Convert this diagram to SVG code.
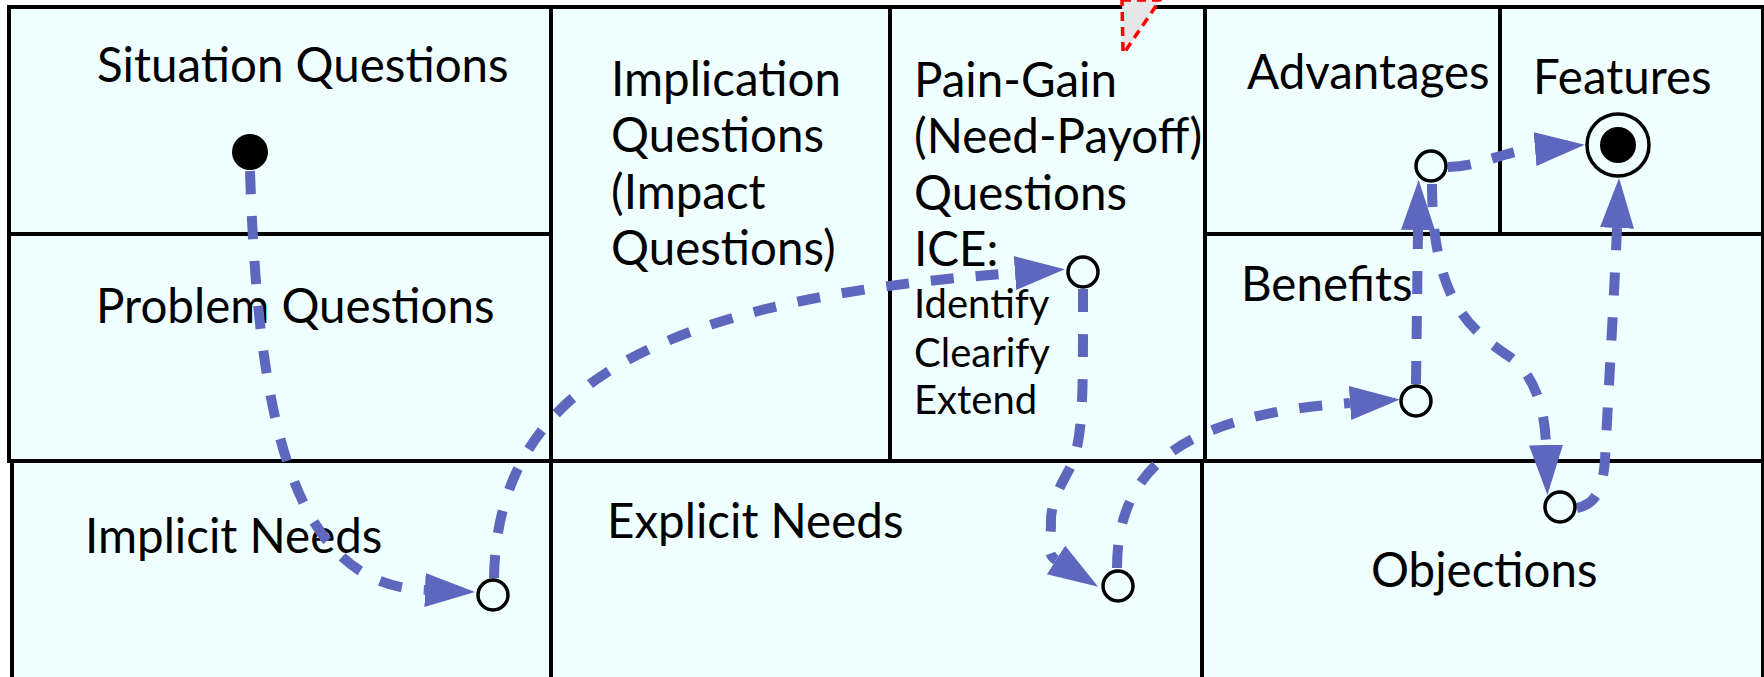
<svg xmlns="http://www.w3.org/2000/svg" width="1764" height="677" viewBox="0 0 1764 677">
<style>
.cell{fill:#F0FFFF;stroke:#000;stroke-width:4}
.lbl{font-family:Lato,"Noto Sans","Liberation Sans",sans-serif;font-size:47.5px;fill:#000}
.sm{font-size:40px}
.edge{fill:none;stroke:#5E67BE;stroke-width:10;stroke-dasharray:23 22}
.st{fill:#F0FFFF;stroke:#000;stroke-width:3.5}
</style>
<defs>
<marker id="ah" markerUnits="userSpaceOnUse" markerWidth="52" markerHeight="36" refX="0" refY="17" orient="auto" viewBox="0 0 52 36">
<path d="M0,0 L50,17 L0,34 z" fill="#5E67BE"/>
</marker>
</defs>
<g id="cells">
<g id="situation"><rect class="cell" x="9" y="7" width="542" height="227"/><text class="lbl" x="97" y="82">Situation Questions</text></g>
<g id="problem"><rect class="cell" x="9" y="234" width="542" height="227"/><text class="lbl" x="96" y="323">Problem Questions</text></g>
<g id="implication"><rect class="cell" x="551" y="7" width="339" height="454"/><text class="lbl" x="611" y="96">Implication</text><text class="lbl" x="611" y="152">Questions</text><text class="lbl" x="611" y="209">(Impact</text><text class="lbl" x="611" y="265">Questions)</text></g>
<g id="paingain"><rect class="cell" x="890" y="7" width="315" height="454"/><text class="lbl" x="914" y="97">Pain-Gain</text><text class="lbl" x="914" y="153">(Need-Payoff)</text><text class="lbl" x="914" y="210">Questions</text><text class="lbl" x="914" y="266">ICE:</text><text class="lbl sm" x="914" y="318">Identify</text><text class="lbl sm" x="914" y="367">Clearify</text><text class="lbl sm" x="914" y="414">Extend</text></g>
<g id="advantages"><rect class="cell" x="1205" y="7" width="295" height="227"/><text class="lbl" x="1247" y="89">Advantages</text></g>
<g id="features"><rect class="cell" x="1500" y="7" width="263" height="227"/><text class="lbl" x="1533" y="94">Features</text></g>
<g id="benefits"><rect class="cell" x="1205" y="234" width="558" height="227"/><text class="lbl" x="1241" y="301">Benefits</text></g>
<g id="implicit"><rect class="cell" x="12" y="461" width="539" height="240"/><text class="lbl" x="85" y="553">Implicit Needs</text></g>
<g id="explicit"><rect class="cell" x="551" y="461" width="651" height="240"/><text class="lbl" x="607" y="538">Explicit Needs</text></g>
<g id="objections"><rect class="cell" x="1202" y="461" width="561" height="240"/><text class="lbl" x="1371" y="587">Objections</text></g>
</g>
<g id="note-tip"><polygon points="1122,0 1160,0 1124,53 1123,53" fill="#E6E6E6" stroke="#FF0000" stroke-width="3.5" stroke-dasharray="9 6"/></g>
<g id="connectors">
<path class="edge" marker-end="url(#ah)" d="M250 171 C258 420 292 585 425 590"/>
<path class="edge" marker-end="url(#ah)" d="M494 578 C497 390 650 300 1015 273"/>
<path class="edge" marker-end="url(#ah)" d="M1083 289 C1083 390 1084 440 1070 468 C1058 490 1050 505 1051 525 C1051 540 1045 553 1056 560"/>
<path class="edge" marker-end="url(#ah)" d="M1117 568 C1117 470 1180 415 1350 403"/>
<path class="edge" marker-end="url(#ah)" d="M1416 384 L1418 230"/>
<path class="edge" marker-end="url(#ah)" d="M1432 184 C1432 300 1470 330 1510 357 C1535 375 1545 410 1546 445"/>
<path class="edge" marker-end="url(#ah)" d="M1577 508 C1598 504 1603 485 1605 460 C1609 380 1614 300 1617 228"/>
<path class="edge" marker-end="url(#ah)" d="M1448 167 C1480 167 1500 152 1535 149"/>
</g>
<g id="start"><circle cx="250" cy="152" r="18" fill="#000"/></g>
<g id="n-implicit"><circle class="st" cx="493" cy="595" r="15"/></g>
<g id="n-paingain"><circle class="st" cx="1083" cy="272" r="15"/></g>
<g id="n-explicit"><circle class="st" cx="1118" cy="586" r="15"/></g>
<g id="n-benefits"><circle class="st" cx="1416" cy="401" r="15"/></g>
<g id="n-advantages"><circle class="st" cx="1431" cy="166" r="15"/></g>
<g id="n-objections"><circle class="st" cx="1560" cy="507" r="15"/></g>
<g id="end"><circle class="st" cx="1618" cy="145" r="31"/><circle cx="1618" cy="145" r="18" fill="#000"/></g>
</svg>
